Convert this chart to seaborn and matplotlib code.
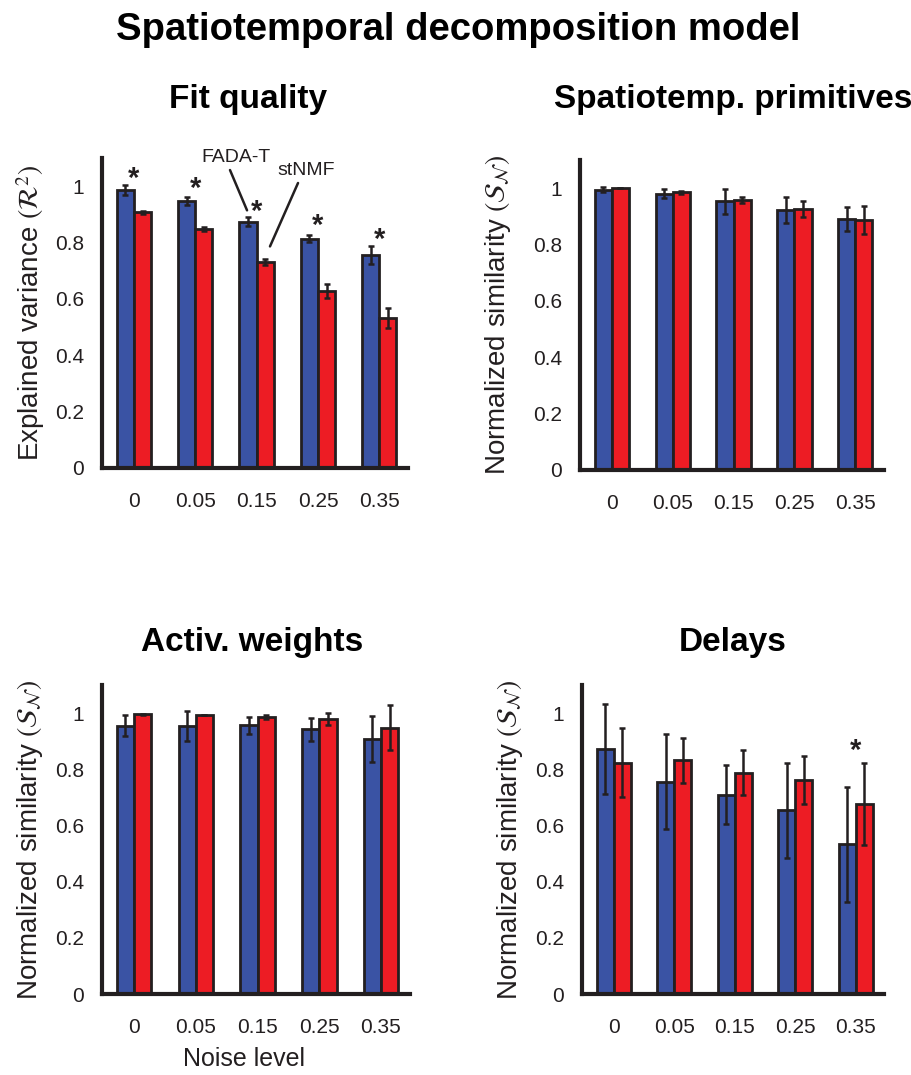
import matplotlib
matplotlib.use("Agg")
import matplotlib.pyplot as plt
import seaborn as sns
import pandas as pd
import numpy as np

sns.set_style("white")
plt.rcParams['font.family'] = ['Liberation Sans', 'DejaVu Sans']
plt.rcParams['mathtext.fontset'] = 'stix'

noise = ["0", "0.05", "0.15", "0.25", "0.35"]
methods = ["FADA-T", "stNMF"]

# Fit quality
fit_fada = [0.986, 0.948, 0.874, 0.814, 0.757]
fit_fada_err = [0.019, 0.014, 0.017, 0.014, 0.032]
fit_st = [0.907, 0.848, 0.731, 0.627, 0.532]
fit_st_err = [0.005, 0.007, 0.012, 0.025, 0.037]
fit_stars = [1.025, 0.99, 0.91, 0.86, 0.81]

# Spatiotemporal primitives
prim_fada = [0.995, 0.980, 0.953, 0.922, 0.890]
prim_fada_err = [0.010, 0.016, 0.045, 0.045, 0.042]
prim_st = [1.000, 0.985, 0.958, 0.926, 0.887]
prim_st_err = [0.001, 0.005, 0.010, 0.030, 0.048]

# Activation weights
act_fada = [0.955, 0.955, 0.957, 0.942, 0.908]
act_fada_err = [0.037, 0.053, 0.031, 0.040, 0.083]
act_st = [0.996, 0.994, 0.988, 0.978, 0.948]
act_st_err = [0.001, 0.001, 0.007, 0.021, 0.080]

# Delays
del_fada = [0.874, 0.756, 0.710, 0.654, 0.533]
del_fada_err = [0.160, 0.170, 0.104, 0.170, 0.204]
del_st = [0.823, 0.833, 0.788, 0.761, 0.677]
del_st_err = [0.123, 0.080, 0.080, 0.086, 0.146]
del_stars = [None, None, None, None, 0.865]

BLUE = "#3A53A4"
RED = "#ED1C24"
EDGE = "#231F20"

fig = plt.figure(figsize=(9.11, 10.75), dpi=100)

def panel(rect, fada, fada_err, st, st_err, title, title_xy, ylabel, ylab_x,
          stars=None, xlabel=None):
    ax = fig.add_axes(rect)
    df = pd.DataFrame({
        "noise": noise * 2,
        "method": [methods[0]] * 5 + [methods[1]] * 5,
        "value": list(fada) + list(st),
    })
    sns.barplot(data=df, x="noise", y="value", hue="method", order=noise,
                hue_order=methods, palette=[BLUE, RED], width=0.56, saturation=1,
                edgecolor=EDGE, linewidth=2.0, errorbar=None, legend=False, ax=ax)
    errs = list(fada_err) + list(st_err)
    vals = list(fada) + list(st)
    patches = [p for p in ax.patches if p.get_height() > 0][:10]
    for p, v, e in zip(patches, vals, errs):
        xc = p.get_x() + p.get_width() / 2
        ax.errorbar(xc, v, yerr=e, fmt="none", ecolor=EDGE, elinewidth=1.8,
                    capsize=2.5, capthick=1.8, zorder=5)
    if stars is not None:
        for i, s in enumerate(stars):
            if s is not None:
                ax.text(i, s, "*", ha="center", va="center", fontsize=21,
                        fontweight="bold", color=EDGE)
    ax.set_xlim(-0.52, 4.47)
    ax.set_ylim(0, 1.1)
    ax.set_yticks([0, 0.2, 0.4, 0.6, 0.8, 1.0])
    ax.set_yticklabels(["0", "0.2", "0.4", "0.6", "0.8", "1"])
    ax.tick_params(axis="both", length=0, labelsize=15, colors=EDGE)
    ax.tick_params(axis="x", pad=17)
    ax.tick_params(axis="y", pad=13)
    for s in ["top", "right"]:
        ax.spines[s].set_visible(False)
    for s in ["left", "bottom"]:
        ax.spines[s].set_linewidth(3.0)
        ax.spines[s].set_color(EDGE)
    ax.set_ylabel(ylabel, fontsize=20, color=EDGE)
    ax.yaxis.set_label_coords(ylab_x, 0.5)
    if xlabel:
        ax.set_xlabel(xlabel, fontsize=18, color=EDGE)
        ax.xaxis.set_label_coords(0.46, -0.172)
    else:
        ax.set_xlabel("")
    fig.text(title_xy[0] / 911, 1 - title_xy[1] / 1075, title, ha="center", va="center",
             fontsize=24, fontweight="bold", color="black")
    return ax

SN = r"Normalized similarity $(\mathcal{S}_{\mathcal{N}})$"
ax1 = panel([0.112, 0.5647, 0.336, 0.2884], fit_fada, fit_fada_err, fit_st, fit_st_err,
            "Fit quality", (248, 100), r"Explained variance $(\mathcal{R}^2)$", -0.18,
            stars=fit_stars)
ax2 = panel([0.6367, 0.5628, 0.3337, 0.2884], prim_fada, prim_fada_err, prim_st, prim_st_err,
            "Spatiotemp. primitives", (733, 100), SN, -0.22)
ax3 = panel([0.112, 0.0753, 0.338, 0.2874], act_fada, act_fada_err, act_st, act_st_err,
            "Activ. weights", (252, 643), SN, -0.185, xlabel="Noise level")
ax4 = panel([0.639, 0.0753, 0.3315, 0.2874], del_fada, del_fada_err, del_st, del_st_err,
            "Delays", (733, 643), SN, -0.19, stars=del_stars)

# Annotation in Fit quality panel
ax1.text(1.664, 1.10, "FADA-T", ha="center", va="center", fontsize=14, color=EDGE, clip_on=False)
ax1.text(2.806, 1.055, "stNMF", ha="center", va="center", fontsize=14, color=EDGE, clip_on=False)
ax1.plot([1.566, 1.844], [1.057, 0.914], color=EDGE, lw=1.8, clip_on=False, zorder=6)
ax1.plot([2.675, 2.218], [1.011, 0.786], color=EDGE, lw=1.8, clip_on=False, zorder=6)

fig.text(0.503, 1 - 30 / 1075, "Spatiotemporal decomposition model", ha="center", va="center",
         fontsize=27.5, fontweight="bold", color="black")

fig.savefig("out.png", dpi=100, facecolor="white")
